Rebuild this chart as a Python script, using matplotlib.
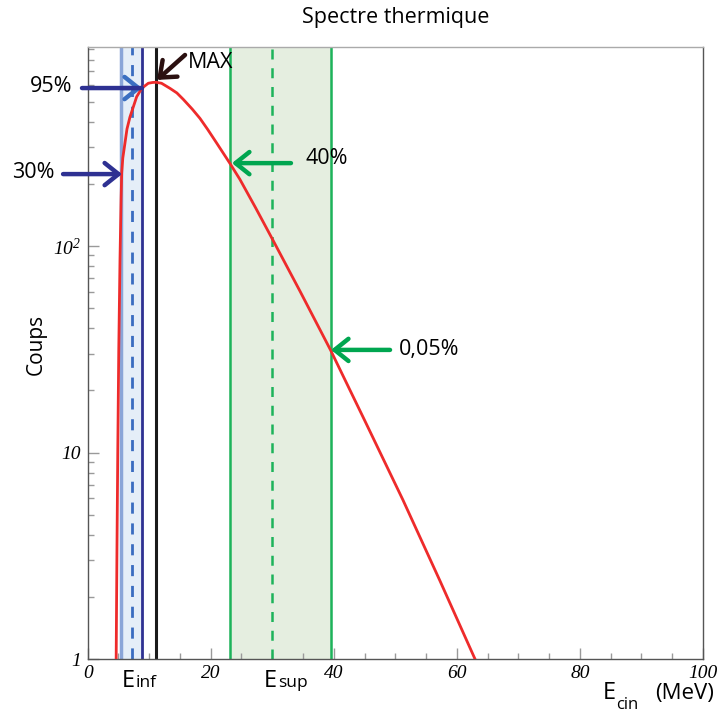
import matplotlib
matplotlib.use('Agg')
import matplotlib.pyplot as plt
from matplotlib.ticker import FixedLocator, NullFormatter

# spectre (E en MeV, coups)
energie = [4.63, 4.76, 4.89, 5.05, 5.25, 5.43, 5.53, 5.71, 6.06, 6.39, 6.87, 7.96,
           8.78, 9.85, 10.5, 11.1, 12.0, 13.38, 14.5, 15.54, 17.0, 18.25, 19.5,
           20.97, 23.13, 24.75, 27.3, 29.95, 34.5, 39.46, 45.07, 51.24, 57.26, 62.95]
coups = [1.0, 3.4, 10, 31, 85, 170, 226, 267, 315, 369, 421, 528,
         580, 614, 619, 621, 614, 580, 551, 513, 460, 415, 367,
         315, 251, 210, 153, 109, 60.5, 31.4, 14.2, 5.89, 2.39, 1.0]

bande_inf = (5.4, 8.9)
e_inf = 7.15
e_max = 11.05
bande_sup = (23.1, 39.5)
e_sup = 30.0

xticks = [0, 20, 40, 60, 80, 100]
xlabels = ['0', '20', '40', '60', '80', '100']
yticks = [1, 10, 100]
ylabels = ['1', '10', r'$10^{2}$']

# points visés par les flèches (E, coups)
pt_30 = (5.59, 223)
pt_95 = (8.83, 582)
pt_max = (11.27, 637)
pt_40 = (23.45, 252)
pt_005 = (39.55, 31.4)

plt.rcParams['mathtext.fontset'] = 'custom'
plt.rcParams['mathtext.rm'] = 'Liberation Serif:italic'
plt.rcParams['mathtext.it'] = 'Liberation Serif:italic'

W, H = 721, 713
def px(x, y):
    return x / W, 1 - y / H

sans = 'Open Sans'
fig = plt.figure(figsize=(7.21, 7.13), dpi=100)
ax = fig.add_axes([0.1216, 0.0757, 0.8534, 0.8584])
ax.set_yscale('log')
ax.set_xlim(0, 100)
ax.set_ylim(1, 920)

# bandes
ax.axvspan(*bande_inf, color='#e5eef8', zorder=1)
ax.axvline(bande_inf[0], color='#8aa5d8', lw=2.5, zorder=2)
ax.axvline(bande_inf[1], color='#2e3192', lw=2, zorder=2)
ax.axvline(e_inf, color='#3a6cc0', lw=2, ls=(0, (4, 3.5)), zorder=2)
ax.axvline(e_max, color='#1a1a1a', lw=2.2, zorder=2)
ax.axvspan(*bande_sup, color='#e5eee0', zorder=1)
ax.axvline(bande_sup[0], color='#1db35a', lw=1.8, zorder=2)
ax.axvline(bande_sup[1], color='#1db35a', lw=1.8, zorder=2)
ax.axvline(e_sup, color='#1db35a', lw=1.8, ls=(0, (4, 3.5)), zorder=2)

ax.plot(energie, coups, color='#ee2b2b', lw=2, zorder=3)

# axes style ROOT
ax.xaxis.set_major_locator(FixedLocator(xticks))
ax.set_xticklabels(xlabels)
ax.xaxis.set_minor_locator(FixedLocator([v for v in range(0, 101, 5) if v % 20]))
ax.yaxis.set_major_locator(FixedLocator(yticks))
ax.set_yticklabels(ylabels)
ax.yaxis.set_minor_locator(FixedLocator([k * 10 ** d for d in range(3) for k in range(2, 10)]))
ax.yaxis.set_minor_formatter(NullFormatter())
ax.tick_params(which='both', direction='in', color='#9a9a9a', width=1)
ax.tick_params(which='major', length=8)
ax.tick_params(which='minor', length=4.3)
ax.tick_params(axis='x', pad=4)
ax.tick_params(axis='y', pad=5)
for lab in ax.get_xticklabels() + ax.get_yticklabels():
    lab.set_family('Liberation Serif')
    lab.set_style('italic')
    lab.set_fontsize(14)
for s in ax.spines.values():
    s.set_color('#555555')
    s.set_linewidth(1)
ax.spines['top'].set_color('#aaaaaa')

# flèches
def fleche(pt, dx, dy, color, head=True):
    ax.annotate('', xy=pt, xytext=(dx, dy), textcoords='offset pixels',
                arrowprops=dict(arrowstyle='->,head_length=0.5,head_width=0.4' if head else '-',
                                color=color, lw=3.2, mutation_scale=20,
                                shrinkA=0, shrinkB=0), zorder=5)

fleche(pt_30, -59, 0, '#2e3192')
fleche(pt_95, -20, 0, '#3b6fc1')
fleche(pt_95, -60, 0, '#2e3192', head=False)
fleche(pt_max, 28, 25, '#2b1010')
fleche(pt_40, 59, 0, '#00a650')
fleche(pt_005, 59, 0, '#00a650')

# textes
fig.text(*px(396, 18), 'Spectre thermique', family=sans, fontsize=15.5, ha='center', va='center')
fig.text(*px(36, 344), 'Coups', family=sans, fontsize=15, rotation=90, ha='center', va='center')
fig.text(*px(51, 87), '95%', family=sans, fontsize=15.5, ha='center', va='center')
fig.text(*px(33, 172), '30%', family=sans, fontsize=15.5, ha='center', va='center')
fig.text(*px(211, 63), 'MAX', family=sans, fontsize=15.5, ha='center', va='center')
fig.text(*px(305, 158), '40%', family=sans, fontsize=15.5, ha='left', va='center')
fig.text(*px(399, 350), '0,05%', family=sans, fontsize=15.5, ha='left', va='center')
fig.text(*px(122, 687), 'E', family=sans, fontsize=17, ha='left', va='baseline')
fig.text(*px(135.5, 687), 'inf', family=sans, fontsize=12.5, ha='left', va='baseline')
fig.text(*px(264, 687), 'E', family=sans, fontsize=17, ha='left', va='baseline')
fig.text(*px(278.5, 687), 'sup', family=sans, fontsize=12.5, ha='left', va='baseline')
fig.text(*px(603, 699), 'E', family=sans, fontsize=17, ha='left', va='baseline')
fig.text(*px(616, 709), 'cin', family=sans, fontsize=12, ha='left', va='baseline')
fig.text(*px(714, 699), '(MeV)', family=sans, fontsize=16, ha='right', va='baseline')

fig.savefig('out.png', dpi=100)
